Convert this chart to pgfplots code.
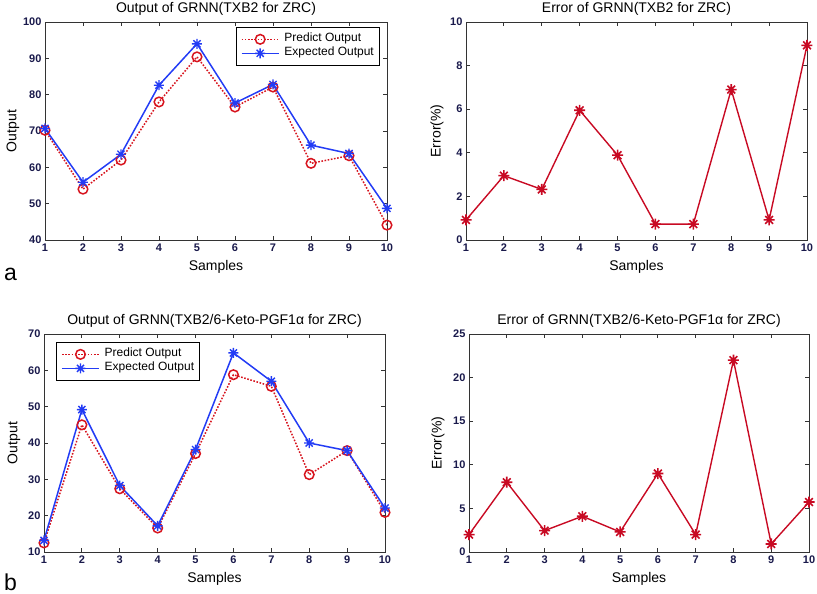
\documentclass[border=0pt]{standalone}
\usepackage{fontspec}
\setmainfont{Liberation Sans}
\usepackage{pgfplots}
\pgfplotsset{compat=1.18}
\definecolor{mred}{RGB}{215,20,30}
\definecolor{mblue}{RGB}{35,60,245}
\definecolor{ered}{RGB}{200,10,35}
\definecolor{tickc}{RGB}{25,25,75}
\pgfdeclareplotmark{mstar}{%
  \pgfpathmoveto{\pgfqpoint{-\pgfplotmarksize}{0pt}}\pgfpathlineto{\pgfqpoint{\pgfplotmarksize}{0pt}}%
  \pgfpathmoveto{\pgfqpoint{0pt}{-\pgfplotmarksize}}\pgfpathlineto{\pgfqpoint{0pt}{\pgfplotmarksize}}%
  \pgfpathmoveto{\pgfqpoint{-0.707\pgfplotmarksize}{-0.707\pgfplotmarksize}}\pgfpathlineto{\pgfqpoint{0.707\pgfplotmarksize}{0.707\pgfplotmarksize}}%
  \pgfpathmoveto{\pgfqpoint{-0.707\pgfplotmarksize}{0.707\pgfplotmarksize}}\pgfpathlineto{\pgfqpoint{0.707\pgfplotmarksize}{-0.707\pgfplotmarksize}}%
  \pgfusepathqstroke}
\pgfplotsset{
  every axis title shift=0pt,
  myaxis/.style={
    scale only axis, width=341pt, height=218pt, anchor=south west,
    xmin=1, xmax=10, xtick={1,...,10},
    tick align=inside, major tick length=4pt,
    axis line style={black!80, line width=0.8pt},
    every tick/.style={black!80, line width=0.8pt},
    ticklabel style={font=\fontsize{11}{12}\selectfont\bfseries, text=tickc},
    /pgf/number format/assume math mode=true,
    xlabel=Samples,
    label style={font=\fontsize{14}{16}\selectfont},
    xlabel style={at={(axis description cs:0.5,-0.124)}, anchor=center},
    title style={font=\fontsize{14}{16}\selectfont, at={(axis description cs:0.5,1.062)}, anchor=center, yshift=0pt},
    legend style={draw=black, line width=0.6pt, fill=white, font=\fontsize{12}{14}\selectfont,
      inner xsep=5pt, inner ysep=5pt, row sep=0pt, column sep=5pt,
      nodes={inner sep=0pt, text height=9pt, text depth=5pt}},
    legend cell align=left,
    legend image code/.code={\draw[mark repeat=2,mark phase=2,#1,line width=1.5pt] plot coordinates {(0pt,0pt) (18.5pt,0pt) (37pt,0pt)};},
  },
  pred/.style={mred, line width=1.5pt, dash pattern=on 1.6pt off 1.6pt, mark=o, mark size=4.8pt, mark options={solid, line width=1.5pt}},
  expd/.style={mblue, line width=1.5pt, mark=mstar, mark size=5pt, mark options={solid, line width=1.4pt}},
  err/.style={ered, line width=1.4pt, mark=mstar, mark size=5.5pt, mark options={solid, line width=1.6pt}},
}
\begin{document}
\begin{tikzpicture}
\useasboundingbox (0pt,-594pt) rectangle (817pt,0pt);
% a: output
\begin{axis}[myaxis, at={(45pt,-240pt)}, width=342pt,
  ymin=40, ymax=100, ytick={40,50,...,100},
  ylabel=Output, ylabel style={at={(axis description cs:-0.094,0.5)}, rotate=0, anchor=center},
  title={Output of GRNN(TXB2 for ZRC)},
  legend style={at={(axis description cs:0.977,0.977)}, anchor=north east}]
\addplot[pred] coordinates {(1,70.2) (2,54.0) (3,62.0) (4,78.0) (5,90.4) (6,76.6) (7,82.1) (8,61.1) (9,63.2) (10,44.1)};
\addlegendentry{Predict Output}
\addplot[expd] coordinates {(1,70.7) (2,55.9) (3,63.6) (4,82.6) (5,94.0) (6,77.7) (7,82.8) (8,66.1) (9,63.8) (10,48.7)};
\addlegendentry{Expected Output}
\end{axis}
% a: error
\begin{axis}[myaxis, at={(466pt,-240pt)},
  ymin=0, ymax=10, ytick={0,2,...,10},
  ylabel={Error(\%)}, ylabel style={at={(axis description cs:-0.085,0.5)}, rotate=0, anchor=center},
  title={Error of GRNN(TXB2 for ZRC)}]
\addplot[err] coordinates {(1,0.92) (2,2.95) (3,2.32) (4,5.95) (5,3.89) (6,0.73) (7,0.73) (8,6.9) (9,0.92) (10,8.93)};
\end{axis}
% b: output
\begin{axis}[myaxis, at={(44pt,-552pt)},
  ymin=10, ymax=70, ytick={10,20,...,70},
  ylabel=Output, ylabel style={at={(axis description cs:-0.088,0.5)}, rotate=0, anchor=center},
  title={Output of GRNN(TXB2/6-Keto-PGF1α for ZRC)},
  legend style={at={(axis description cs:0.035,0.963)}, anchor=north west}]
\addplot[pred] coordinates {(1,12.5) (2,45.0) (3,27.4) (4,16.6) (5,37.1) (6,58.8) (7,55.6) (8,31.3) (9,37.9) (10,20.9)};
\addlegendentry{Predict Output}
\addplot[expd] coordinates {(1,13.2) (2,49.2) (3,28.3) (4,17.2) (5,38.2) (6,64.8) (7,57.0) (8,40.0) (9,37.9) (10,22.1)};
\addlegendentry{Expected Output}
\end{axis}
% b: error
\begin{axis}[myaxis, at={(469pt,-552pt)}, width=340pt,
  ymin=0, ymax=25, ytick={0,5,...,25},
  ylabel={Error(\%)}, ylabel style={at={(axis description cs:-0.091,0.5)}, rotate=0, anchor=center},
  title={Error of GRNN(TXB2/6-Keto-PGF1α for ZRC)}]
\addplot[err] coordinates {(1,2.0) (2,8.0) (3,2.45) (4,4.1) (5,2.3) (6,9.0) (7,2.0) (8,22.0) (9,0.92) (10,5.73)};
\end{axis}
\node[anchor=base west, inner sep=0pt, font=\fontsize{23}{26}\selectfont] at (4pt,-280pt) {a};
\node[anchor=base west, inner sep=0pt, font=\fontsize{23}{26}\selectfont] at (4pt,-590pt) {b};
\end{tikzpicture}
\end{document}
